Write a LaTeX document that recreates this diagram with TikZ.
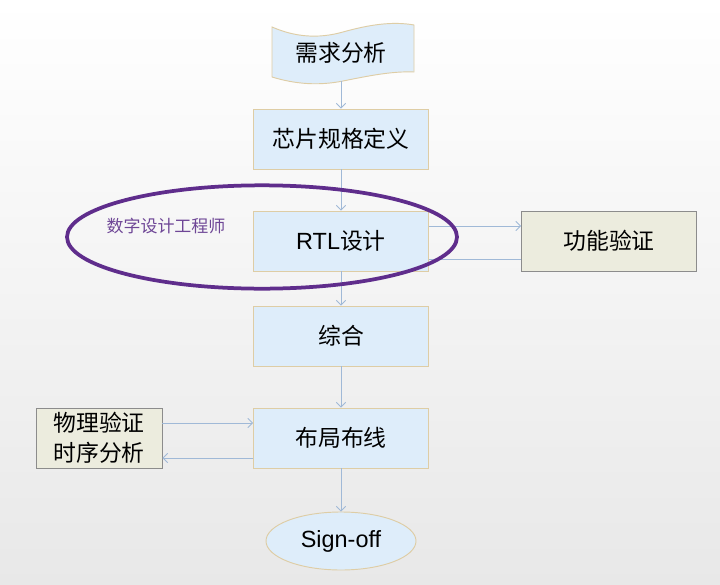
\documentclass[tikz,border=0pt]{standalone}
\usepackage{fontspec}
\setmainfont{Liberation Sans}
\newfontfamily\cjk{Noto Sans CJK SC}
\usepackage{tikz}
\usetikzlibrary{shapes.geometric, arrows.meta}
\definecolor{BoxBlue}{RGB}{222,237,250}
\definecolor{BoxTan}{RGB}{222,205,165}
\definecolor{CheckGrey}{RGB}{236,236,222}
\definecolor{CheckLine}{RGB}{140,140,140}
\definecolor{FlowBlue}{RGB}{160,185,215}
\definecolor{TeamPurple}{RGB}{95,45,140}
\definecolor{TeamText}{RGB}{110,70,150}
\begin{document}
\begin{tikzpicture}[x=0.03cm, y=-0.03cm,
            stage/.style={rectangle, draw=BoxTan, fill=BoxBlue, line width=0.8pt,
                          minimum width=5.25cm, minimum height=1.8cm,
                          font=\cjk\fontsize{19.5}{23}\selectfont, align=center},
            check/.style={rectangle, draw=CheckLine, fill=CheckGrey, line width=0.8pt,
                          minimum height=1.8cm,
                          font=\cjk\fontsize{19.5}{25.5}\selectfont, align=center},
            flow/.style={draw=FlowBlue, line width=0.7pt,
                         -{Straight Barb[length=4pt,width=8pt]}},
            link/.style={draw=FlowBlue, line width=0.7pt}
          ]
          % Background
          \useasboundingbox (0,0) rectangle (720,585);
          \shade[top color=white, middle color=white, bottom color=black!9]
            (0,0) rectangle (720,585);
          % Requirement flag
          \draw[draw=BoxTan, fill=BoxBlue, line width=0.8pt]
            (272,27) .. controls (295,37) and (318,39) .. (343,32)
            .. controls (368,25) and (392,21) .. (414,25) -- (414,72)
            .. controls (392,71) and (368,76) .. (343,81)
            .. controls (318,86) and (295,84) .. (272,77) -- cycle;
          \node[stage, draw=none, fill=none, minimum width=4.26cm, minimum height=1.68cm]
            (req) at (341,53) {需求分析};
          % Main flow
          \node[stage] (spec) at (341,139) {芯片规格定义};
          \node[stage] (rtl) at (341,241) {{\rmfamily\fontsize{20}{23}\selectfont RTL}设计};
          \node[stage] (synth) at (341,336) {综合};
          \node[stage] (route) at (341,438) {布局布线};
          \node[ellipse, draw=BoxTan, fill=BoxBlue, line width=0.8pt, inner sep=0pt,
                minimum width=4.5cm, minimum height=1.74cm,
                font=\fontsize{20}{23}\selectfont] (sign) at (341,541) {Sign-off};
          % Side checks
          \node[check, minimum width=5.25cm] (func) at (609,241) {功能验证};
          \node[check, minimum width=3.78cm] (phys) at (99,438) {物理验证\\时序分析};
          % Connectors
          \draw[flow] (req.south) -- (spec.north);
          \draw[flow] (spec.south) -- (rtl.north);
          \draw[flow] (rtl.south) -- (synth.north);
          \draw[flow] (synth.south) -- (route.north);
          \draw[flow] (route.south) -- (sign.north);
          \draw[flow] ([yshift=0.45cm]rtl.east) -- ([yshift=0.45cm]func.west);
          \draw[link] ([yshift=-0.54cm]func.west) -- ([yshift=-0.54cm]rtl.east);
          \draw[flow] ([yshift=0.45cm]phys.east) -- ([yshift=0.45cm]route.west);
          \draw[flow] ([yshift=-0.6cm]route.west) -- ([yshift=-0.6cm]phys.east);
          % Digital design engineer
          \node[ellipse, draw=TeamPurple, line width=3.2pt,
                minimum width=11.7cm, minimum height=3.1cm] (team) at (262,237) {};
          \node[text=TeamText, font=\cjk\fontsize{14.5}{17}\selectfont]
            (teamlabel) at (166,226) {数字设计工程师};
        \end{tikzpicture}
\end{document}
